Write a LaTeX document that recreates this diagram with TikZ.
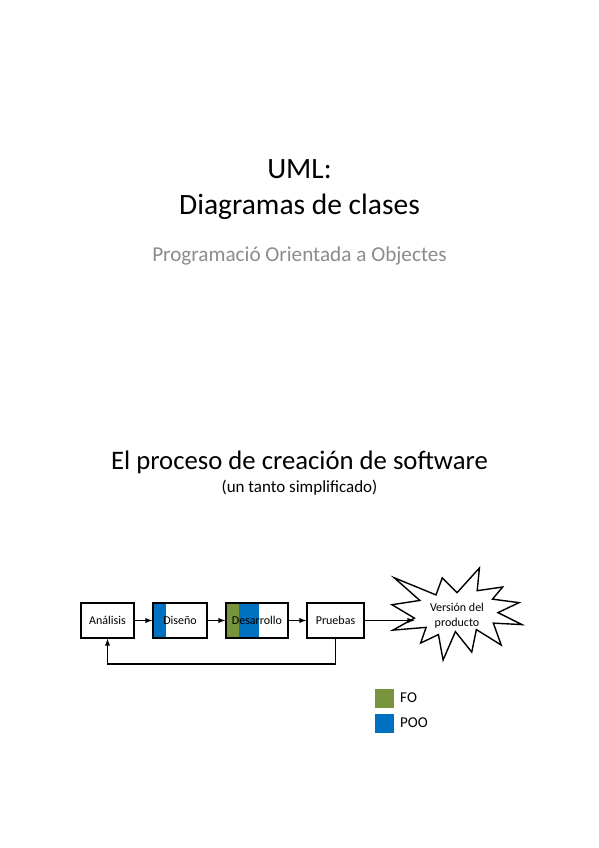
\documentclass[tikz,border=0pt]{standalone}
\usepackage{fontspec}
\setmainfont{Carlito}
\usetikzlibrary{positioning, arrows}

\definecolor{fo}{HTML}{77933C}
\definecolor{poo}{HTML}{0070C0}
\definecolor{subgrey}{HTML}{8C8C8C}

\begin{document}
\begin{tikzpicture}[x=1pt, y=-1pt,
  stage/.style={draw=black, line width=1.4pt, fill=white, inner sep=0pt,
    minimum height=35pt, font=\fontsize{12}{14}\selectfont},
  legendbox/.style={inner sep=0pt, minimum size=19pt},
  flow/.style={-latex, line width=1.4pt}]
\useasboundingbox (0,0) rectangle (599,848);

% titles
\node[anchor=base, font=\fontsize{29.5}{31}\selectfont] (uml) at (299.5,178) {UML:};
\node[anchor=base, font=\fontsize{29.5}{31}\selectfont] (diag) at (299.5,214) {Diagramas de clases};
\node[anchor=base, text=subgrey, font=\fontsize{21.2}{23}\selectfont] (poosub) at (299.5,261) {Programació Orientada a Objectes};
\node[anchor=base, font=\fontsize{26.7}{28}\selectfont] (proc) at (299.5,469) {El proceso de creación de software};
\node[anchor=base, font=\fontsize{17}{19}\selectfont] (simpl) at (299.5,492) {(un tanto simplificado)};

% stages
\node[stage, minimum width=53pt] (analisis) at (107.5,620.5) {Análisis};
\node[stage, minimum width=54pt,
  path picture={\fill[poo] (path picture bounding box.south west) rectangle ([xshift=13pt]path picture bounding box.north west);}]
  (diseno) at (180,620.5) {Diseño};
\node[stage, minimum width=62pt,
  path picture={\fill[fo] (path picture bounding box.south west) rectangle ([xshift=13pt]path picture bounding box.north west);
    \fill[poo] ([xshift=13pt]path picture bounding box.south west) rectangle ([xshift=33pt]path picture bounding box.north west);}]
  (desarrollo) at (257,620.5) {Desarrollo};
\node[stage, minimum width=57pt] (pruebas) at (335.5,620.5) {Pruebas};

% version star
\begin{scope}[shift={(392,568)}, x=0.6019pt, y=-0.4259pt]
\draw[line width=1.4pt, line join=miter, fill=white] (108,58) -- (145.22,0) -- (141.55,53.25) -- (183.80,44.57) -- (167.02,73.15)
  -- (210.97,81.37) -- (176.07,104.75) -- (216,132.90) -- (168.37,129.42) -- (181.45,180.95)
  -- (140.20,144.57) -- (132.47,197.37) -- (105.32,149.35) -- (84.85,216) -- (77.15,156.27)
  -- (47.62,176.17) -- (56.67,139.37) -- (1.35,145.87) -- (37.22,117.75) -- (0,86.15)
  -- (46.27,76.17) -- (3.70,22.95) -- (73.12,63.20) -- (83.52,22.95) -- cycle;
\coordinate (starin) at (37.22,117.75);
\end{scope}
\node[align=center, font=\fontsize{12}{15}\selectfont] (version) at (457,615.5) {Versión del\\producto};

% connectors
\draw[flow] (analisis) -- (diseno);
\draw[flow] (diseno) -- (desarrollo);
\draw[flow] (desarrollo) -- (pruebas);
\draw[flow] (pruebas.east) -- (pruebas.east -| starin);
\coordinate (loop) at (0,664);
\draw[flow] (pruebas.south) |- (loop -| analisis.south) -- (analisis.south);

% legend
\node[legendbox, fill=fo] (fobox) at (384,698) {};
\node[legendbox, fill=poo] (poobox) at (384,723) {};
\node[right=3pt of fobox, font=\fontsize{15}{17}\selectfont] (fotext) {FO};
\node[right=3pt of poobox, font=\fontsize{15}{17}\selectfont] (pootext) {POO};
\end{tikzpicture}
\end{document}
